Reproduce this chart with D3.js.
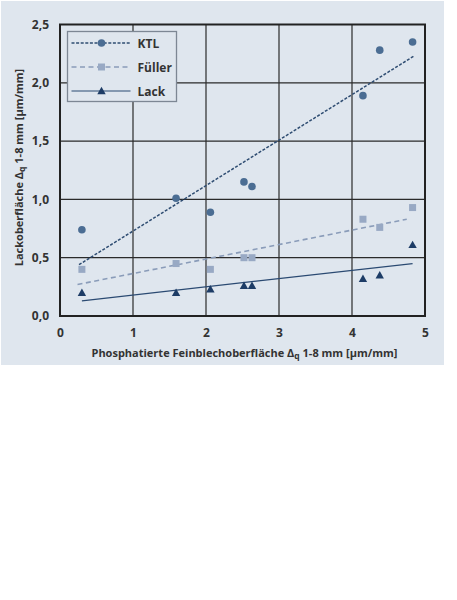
<!DOCTYPE html>
<html lang="de">
<head>
<meta charset="UTF-8">
<title>Lackoberfläche vs. Feinblechoberfläche</title>
<script src="https://d3js.org/d3.v7.min.js"></script>
<style>
	body { margin: 0; background: #fff; }
	svg text { font-family: "Open Sans", "Noto Sans", sans-serif; font-weight: bold; fill: #333; }
</style>
</head>
<body>
<script>
	// data
	var seriesNames = ['KTL', 'Füller', 'Lack'];
	var xValues    = [0.30, 1.59, 2.06, 2.52, 2.63, 4.15, 4.38, 4.83];
	var ktlValues  = [0.74, 1.01, 0.89, 1.15, 1.11, 1.89, 2.28, 2.35];
	var fullerValues = [0.40, 0.45, 0.40, 0.50, 0.50, 0.83, 0.76, 0.93];
	var lackValues = [0.20, 0.20, 0.23, 0.26, 0.26, 0.32, 0.35, 0.61];
	// trend lines: [x0, y0, x1, y1]
	var ktlTrend    = [0.26, 0.44, 4.85, 2.23];
	var fullerTrend = [0.24, 0.27, 4.75, 0.83];
	var lackTrend   = [0.30, 0.13, 4.83, 0.45];
	var xTicks = [0, 1, 2, 3, 4, 5];
	var yTicks = [0, 0.5, 1.0, 1.5, 2.0, 2.5];

	var W = 457, H = 600;
	var margin = {top: 24.5, left: 60, bottom: H - 316, right: W - 425};
	var width = W - margin.left - margin.right;
	var height = H - margin.top - margin.bottom;

	var root = d3.select('body').append('svg')
		.attr('width', W)
		.attr('height', H);

	// panel background
	root.append('rect')
		.attr('x', 1).attr('y', 1)
		.attr('width', 443).attr('height', 364)
		.style('fill', '#dfe6ee');

	var svg = root.append('g')
		.attr('transform', 'translate(' + margin.left + ',' + margin.top + ')');

	var x = d3.scaleLinear().domain([0, 5]).range([0, width]);
	var y = d3.scaleLinear().domain([0, 2.5]).range([height, 0]);

	var fmt = function (d) { return d3.format('.1f')(d).replace('.', ','); };

	// grid
	svg.append('g')
		.selectAll('line')
		.data(xTicks.slice(1, -1))
		.enter().append('line')
		.attr('x1', function (d) { return x(d); })
		.attr('x2', function (d) { return x(d); })
		.attr('y1', 0).attr('y2', height)
		.style('stroke', '#2a2a2a').style('stroke-width', 1.2);

	svg.append('g')
		.selectAll('line')
		.data(yTicks.slice(1, -1))
		.enter().append('line')
		.attr('x1', 0).attr('x2', width)
		.attr('y1', function (d) { return y(d); })
		.attr('y2', function (d) { return y(d); })
		.style('stroke', '#2a2a2a').style('stroke-width', 1.2);

	// frame
	svg.append('rect')
		.attr('width', width).attr('height', height)
		.style('fill', 'none').style('stroke', '#222').style('stroke-width', 2);

	// axes
	var xAxis = svg.append('g')
		.attr('transform', 'translate(0,' + height + ')')
		.call(d3.axisBottom(x).tickValues(xTicks).tickSize(0).tickPadding(12).tickFormat(d3.format('d')));
	var yAxis = svg.append('g')
		.call(d3.axisLeft(y).tickValues(yTicks).tickSize(0).tickPadding(11).tickFormat(fmt));
	[xAxis, yAxis].forEach(function (a) {
		a.select('.domain').remove();
		a.selectAll('text').style('font-size', '12px').style('fill', '#333')
			.style('font-family', '"Open Sans", sans-serif').style('font-weight', 'bold');
	});

	// axis labels
	var xl = root.append('text')
		.attr('x', 244.5).attr('y', 357)
		.style('text-anchor', 'middle')
		.style('font-size', '11px');
	xl.append('tspan').text('Phosphatierte Feinblechoberfläche \u0394');
	xl.append('tspan').attr('baseline-shift', '-25%').style('font-size', '8.5px').text('q');
	xl.append('tspan').text(' 1-8 mm [µm/mm]');

	var yl = root.append('text')
		.attr('transform', 'translate(23,' + 167.5 + ') rotate(-90)')
		.style('text-anchor', 'middle')
		.style('font-size', '11px');
	yl.append('tspan').text('Lackoberfläche \u0394');
	yl.append('tspan').attr('baseline-shift', '-25%').style('font-size', '8.5px').text('q');
	yl.append('tspan').text(' 1-8 mm [µm/mm]');

	var styles = [
		{line: '#2f4d72', dash: '3,1.6', mark: '#4b6d93', shape: 'circle', w: 1.5},
		{line: '#8a9cb9', dash: '5,3.5', mark: '#98a9c4', shape: 'square', w: 1.6},
		{line: '#2b4a72', dash: null, mark: '#1d3c66', shape: 'triangle', w: 1.2}
	];
	var allValues = [ktlValues, fullerValues, lackValues];
	var trends = [ktlTrend, fullerTrend, lackTrend];

	function marker(g, shape, color) {
		if (shape === 'circle') {
			g.append('circle').attr('r', 3.8).style('fill', color);
		} else if (shape === 'square') {
			g.append('rect').attr('x', -3.5).attr('y', -3.5).attr('width', 7).attr('height', 7).style('fill', color);
		} else {
			g.append('path').attr('d', 'M0,-4.2L4.2,3.2L-4.2,3.2Z').style('fill', color);
		}
	}

	// trend lines
	trends.forEach(function (t, i) {
		svg.append('line')
			.attr('x1', x(t[0])).attr('y1', y(t[1]))
			.attr('x2', x(t[2])).attr('y2', y(t[3]))
			.style('stroke', styles[i].line)
			.style('stroke-width', styles[i].w)
			.style('stroke-dasharray', styles[i].dash);
	});

	// points
	allValues.forEach(function (vals, i) {
		svg.selectAll('.pt' + i)
			.data(vals)
			.enter().append('g')
			.attr('class', 'pt' + i)
			.attr('transform', function (d, j) { return 'translate(' + x(xValues[j]) + ',' + y(d) + ')'; })
			.each(function () { marker(d3.select(this), styles[i].shape, styles[i].mark); });
	});

	// legend
	var legend = root.append('g').attr('transform', 'translate(67.5,31.5)');
	legend.append('rect')
		.attr('width', 109).attr('height', 70)
		.style('fill', '#dfe6ee').style('stroke', '#7d8794').style('stroke-width', 1.3);
	var item = legend.selectAll('.info')
		.data(seriesNames)
		.enter().append('g')
		.attr('class', 'info')
		.attr('transform', function (d, i) { return 'translate(0,' + (11.5 + i * 24) + ')'; });
	item.append('line')
		.attr('x1', 4).attr('x2', 63)
		.style('stroke', function (d, i) { return styles[i].line; })
		.style('stroke-width', function (d, i) { return styles[i].w; })
		.style('stroke-dasharray', function (d, i) { return styles[i].dash; });
	item.each(function (d, i) {
		var g = d3.select(this).append('g').attr('transform', 'translate(34,0)');
		marker(g, styles[i].shape, styles[i].mark);
	});
	item.append('text')
		.attr('x', 70).attr('y', 4.5)
		.style('font-size', '12px')
		.text(function (d) { return d; });
</script>
</body>
</html>
